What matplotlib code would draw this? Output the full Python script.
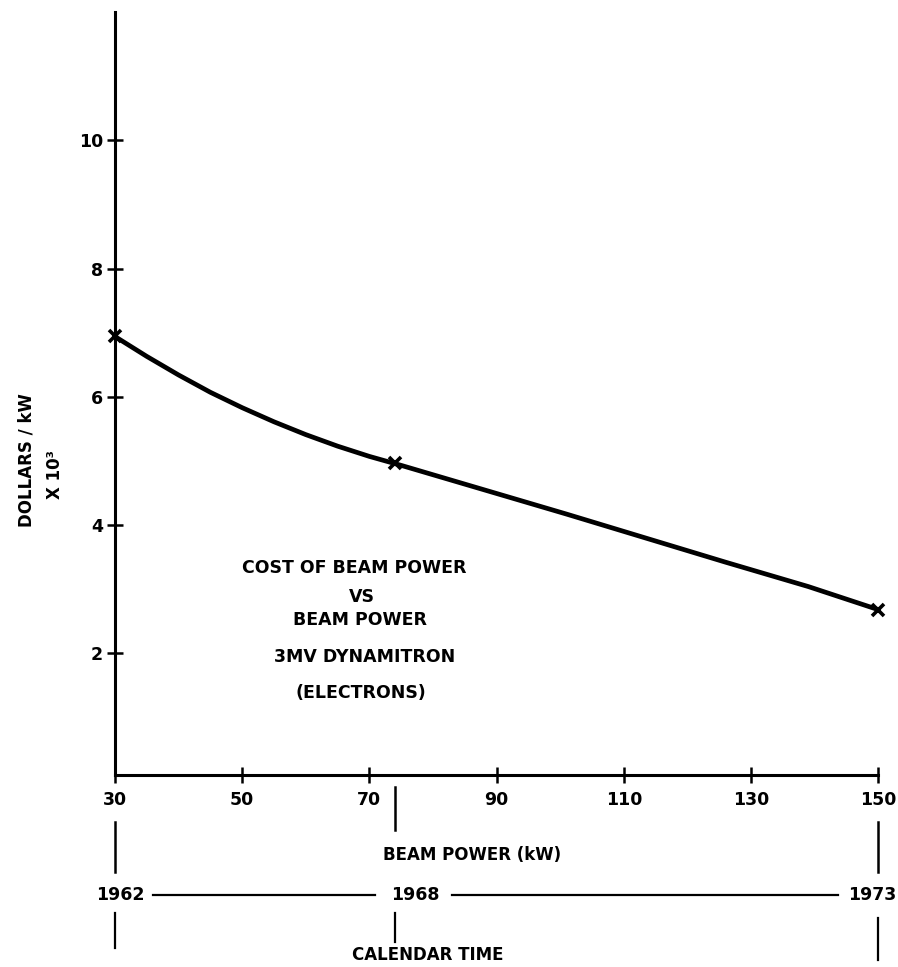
import matplotlib
matplotlib.use("Agg")
import matplotlib.pyplot as plt
import matplotlib.transforms as mtransforms

# ---- data ----
curve_kw = [30, 35, 40, 45, 50, 55, 60, 65, 70, 75, 88, 101, 113, 126, 139, 150]
curve_cost = [6.94, 6.63, 6.34, 6.07, 5.83, 5.61, 5.41, 5.23, 5.07, 4.93,
              4.55, 4.17, 3.81, 3.42, 3.04, 2.68]
point_kw = [30, 74, 150]
point_cost = [6.95, 4.97, 2.68]
x_ticks = [30, 50, 70, 90, 110, 130, 150]
y_ticks = [2, 4, 6, 8, 10]
year_kw = [30, 74, 150]
year_labels = ["1962", "1968", "1973"]
note_lines = ["COST OF BEAM POWER", "VS", "BEAM POWER", "3MV DYNAMITRON", "(ELECTRONS)"]

plt.rcParams['font.family'] = ['DejaVu Sans']
plt.rcParams['font.weight'] = 'bold'

fig = plt.figure(figsize=(8.98, 9.67), dpi=100)
ax = fig.add_axes([0.128, 0.1985, 0.850, 0.789])

ax.plot(curve_kw, curve_cost, color='black', lw=3.4, solid_capstyle='round',
        solid_joinstyle='round', clip_on=False, zorder=3)
ax.plot(point_kw, point_cost, linestyle='none', marker='x', color='black',
        markersize=9, mew=2.6, clip_on=False, zorder=4)

ax.set_xlim(30, 150)
ax.set_ylim(0.1, 12.0)
ax.set_xticks(x_ticks)
ax.set_xticklabels([str(v) for v in x_ticks])
ax.set_yticks(y_ticks)
ax.set_yticklabels([str(v) for v in y_ticks])

for s in ['top', 'right']:
    ax.spines[s].set_visible(False)
for s in ['left', 'bottom']:
    ax.spines[s].set_linewidth(2.2)
ax.tick_params(axis='both', direction='inout', length=11, width=1.8,
               labelsize=12.5)
ax.tick_params(axis='x', pad=6)
ax.tick_params(axis='y', pad=3)
for lab in ax.get_xticklabels() + ax.get_yticklabels():
    lab.set_fontweight('bold')

# y label pieces
fig.text(0.030, 1 - 460 / 967, "DOLLARS / kW", rotation=90, ha='center',
         va='center', fontsize=12, fontweight='bold')
fig.text(0.061, 1 - 475 / 967, "X 10\u00b3", rotation=90, ha='center',
         va='center', fontsize=12, fontweight='bold')

# annotation block
note_x = [67.7, 68.8, 68.6, 69.2, 68.6]
note_y = [3.33, 2.88, 2.52, 1.94, 1.38]
for tx, ty, t in zip(note_x, note_y, note_lines):
    ax.text(tx, ty, t, ha='center', va='center', fontsize=12.5,
            fontweight='bold')

# calendar / beam power bottom scale
trans = mtransforms.blended_transform_factory(ax.transData, ax.transAxes)
seg_upper = [(-0.0616, -0.127), (-0.0157, -0.072), (-0.0616, -0.127)]
seg_lower = [(-0.181, -0.227), (-0.181, -0.219), (-0.187, -0.242)]
for xk, (a0, a1), (b0, b1) in zip(year_kw, seg_upper, seg_lower):
    ax.plot([xk, xk], [a0, a1], color='black', lw=1.8, transform=trans,
            clip_on=False)
    ax.plot([xk, xk], [b0, b1], color='black', lw=1.6, transform=trans,
            clip_on=False)

y_year = -0.157
year_offsets = [0.8, 3.3, -1.0]
for xk, lab, off in zip(year_kw, year_labels, year_offsets):
    ax.text(xk + off, y_year, lab, ha='center', va='center', fontsize=12.5,
            fontweight='bold', transform=trans)
ax.plot([year_kw[0] + 6.0, year_kw[1] - 3.1], [y_year, y_year], color='black',
        lw=1.6, transform=trans, clip_on=False)
ax.plot([year_kw[1] + 9.0, year_kw[2] - 6.3], [y_year, y_year], color='black',
        lw=1.6, transform=trans, clip_on=False)

ax.text(86.2, -0.105, "BEAM POWER (kW)", ha='center', va='center',
        fontsize=12, fontweight='bold', transform=trans)
ax.text(79.2, -0.236, "CALENDAR TIME", ha='center', va='center',
        fontsize=12, fontweight='bold', transform=trans)

fig.savefig("out.png", dpi=100, facecolor='white')
